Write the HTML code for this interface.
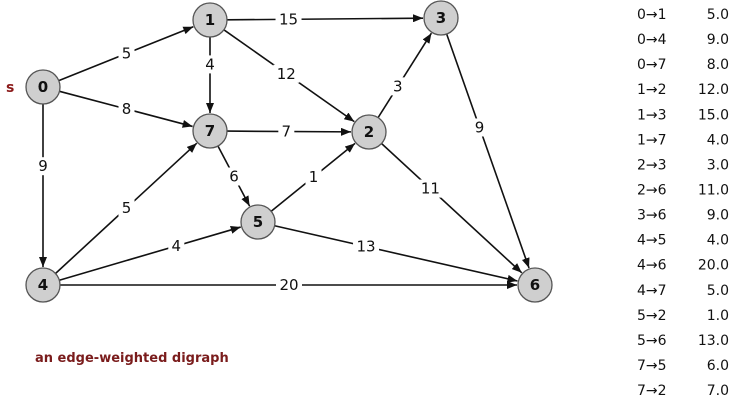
<!DOCTYPE html>
<html><head><meta charset="utf-8"><style>
body{margin:0;background:#fff;width:734px;height:406px;overflow:hidden}
svg{display:block}
text{font-family:"DejaVu Sans","Liberation Sans",sans-serif}
</style></head><body>
<svg id="g" width="734" height="406">
<defs><marker id="ah" markerWidth="10" markerHeight="8" refX="10" refY="4" orient="auto" markerUnits="userSpaceOnUse"><path d="M0,0 L10,4 L0,8 Z" fill="#111"/></marker></defs>
<text x="6" y="92" font-size="14" font-weight="bold" fill="#8b1a1a">s</text>
<text x="35" y="362" font-size="13" font-weight="bold" fill="#7a1c1c">an edge-weighted digraph</text>
</svg>
<script>
const nodeIds=[0,1,2,3,4,5,6,7];
const nodeX=[43,210,369,441,43,258,535,210];
const nodeY=[87,20,132,18,285,222,285,131];
const edgeFrom=[0,0,0,1,1,1,2,2,3,4,4,4,5,5,7,7];
const edgeTo=[1,4,7,2,3,7,3,6,6,5,6,7,2,6,5,2];
const edgeW=[5.0,9.0,8.0,12.0,15.0,4.0,3.0,11.0,9.0,4.0,20.0,5.0,1.0,13.0,6.0,7.0];
const labelFrac=[0.5,0.4,0.5,0.48,0.34,0.4,0.4,0.37,0.41,0.62,0.5,0.5,0.5,0.39,0.5,0.48];
const R=17,NS="http://www.w3.org/2000/svg",svg=document.getElementById('g');
function mk(t,a){const e=document.createElementNS(NS,t);for(const k in a)e.setAttribute(k,a[k]);return e;}
edgeFrom.forEach((f,i)=>{
 const t=edgeTo[i],x1=nodeX[f],y1=nodeY[f],x2=nodeX[t],y2=nodeY[t];
 const d=Math.hypot(x2-x1,y2-y1),ux=(x2-x1)/d,uy=(y2-y1)/d;
 const ln=mk('line',{x1:x1+ux*R,y1:y1+uy*R,x2:x2-ux*(R+1),y2:y2-uy*(R+1),stroke:'#111','stroke-width':1.6,'marker-end':'url(#ah)'});
 
 
 svg.appendChild(ln);
 const lx=x1+(x2-x1)*labelFrac[i],ly=y1+(y2-y1)*labelFrac[i];
 const lab=String(Math.round(edgeW[i]));
 const bg=mk('rect',{x:lx-lab.length*5-3,y:ly-9,width:lab.length*10+6,height:18,fill:'#fff'});
 
 
 svg.appendChild(bg);
 const tx=mk('text',{x:lx,y:ly+5,'font-size':15,'text-anchor':'middle',fill:'#111'});
 tx.textContent=lab;
 
 
 svg.appendChild(tx);
});
nodeIds.forEach((n,i)=>{
 const c=mk('circle',{cx:nodeX[i],cy:nodeY[i],r:R,fill:'#cfcfcf',stroke:'#555','stroke-width':1.3});
 
 
 svg.appendChild(c);
 const t=mk('text',{x:nodeX[i],y:nodeY[i]+5,'font-size':15,'font-weight':'bold','text-anchor':'middle',fill:'#111'});
 t.textContent=n;
 
 
 svg.appendChild(t);
});
edgeFrom.forEach((f,i)=>{
 const y=19+i*25.07;
 const a=mk('text',{x:637,y:y,'font-size':14,fill:'#111'});
 a.textContent=f+'\u2192'+edgeTo[i];
 
 
 svg.appendChild(a);
 const b=mk('text',{x:729,y:y,'font-size':14,'text-anchor':'end',fill:'#111'});
 b.textContent=edgeW[i].toFixed(1);
 
 
 svg.appendChild(b);
});
</script>
</body></html>
